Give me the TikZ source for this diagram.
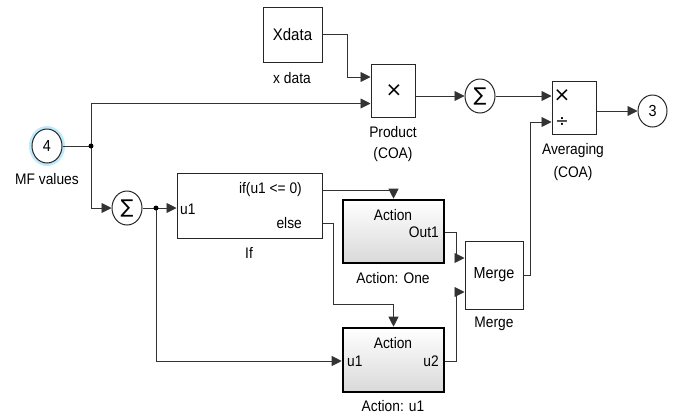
\documentclass[tikz,border=0pt]{standalone}
\usepackage{fontspec}
\setmainfont[FakeStretch=0.9]{Liberation Sans}
\newfontfamily\symfont{DejaVu Sans}
\usetikzlibrary{arrows.meta,shadows,shapes.geometric,calc}
\begin{document}
\begin{tikzpicture}[x=1pt,y=-1pt,
  font=\fontsize{15.3}{17}\selectfont,
  wire/.style={draw=black!80, line width=0.9pt},
  arr/.style={wire,-{Triangle[length=10pt,width=10pt]}},
  blk/.style={draw=black!85, line width=1pt, fill=white, inner sep=0pt,
    drop shadow={shadow xshift=1.2pt,shadow yshift=-1.2pt,opacity=0.35}},
  actblk/.style={draw=black, line width=2.6pt, top color=white, bottom color=black!15, inner sep=0pt,
    drop shadow={shadow xshift=1.2pt,shadow yshift=-1.2pt,opacity=0.35}},
  port/.style={draw=black!85, line width=1pt, fill=white, ellipse, inner sep=0pt, minimum width=30pt, minimum height=34pt},
  dot/.style={circle, fill=black, inner sep=0pt, minimum size=5pt},
  lbl/.style={inner sep=0pt},
  sig/.style={inner sep=0pt, font=\symfont\fontsize{19}{20}\selectfont}
]
\useasboundingbox (0,0) rectangle (677,416);

% blocks
\node[blk, minimum width=59pt, minimum height=55pt] (xdata) at (292.5,34.5) {\fontsize{16.7}{18}\selectfont Xdata};
\node[blk, minimum width=44pt, minimum height=53pt] (prod) at (393,90.5) {};
\node[lbl] at (394,91) {\symfont\fontsize{20}{20}\selectfont ×};
\node[blk, minimum width=44pt, minimum height=53pt] (avg) at (574,107.5) {};
\node[lbl] at (562,96) {\symfont\fontsize{20}{20}\selectfont ×};
\node[lbl] at (562,122) {\symfont\fontsize{16}{16}\selectfont ÷};
\node[blk, minimum width=145pt, minimum height=65pt] (if) at (249.5,205.5) {};
\node[actblk, minimum width=101pt, minimum height=63pt] (act1) at (393.5,231.5) {};
\node[actblk, minimum width=101pt, minimum height=64pt] (actu) at (393.5,360) {};
\node[blk, minimum width=58pt, minimum height=68pt] (merge) at (494,275) {\fontsize{16}{18}\selectfont Merge};

% ports and sums
\draw[line width=3pt, draw=cyan!25] (47,146) ellipse (16.5pt and 18.5pt);
\node[port] (in4) at (47,146) {\fontsize{16}{18}\selectfont 4};
\node[port, minimum width=29pt, minimum height=32pt] (out3) at (652.5,111) {\fontsize{16}{18}\selectfont 3};
\node[port] (sum1) at (480,96) {};
\node[sig] at (480,96) {∑};
\node[port] (sum2) at (127,208) {};
\node[sig] at (127,208) {∑};

% texts inside blocks
\node[lbl, anchor=east] at (302,190) {if(u1 <= 0)};
\node[lbl, anchor=east] at (302,223) {else};
\node[lbl, anchor=west] at (180,209) {u1};
\node[lbl] at (393,215) {Action};
\node[lbl, anchor=east] at (439,232) {Out1};
\node[lbl] at (393,343) {Action};
\node[lbl, anchor=west] at (347,361) {u1};
\node[lbl, anchor=east] at (439,361) {u2};

% labels below blocks
\node[lbl] at (292,78) {x data};
\node[lbl] at (393,132) {Product};
\node[lbl] at (393,155) {(COA)};
\node[lbl] at (573,151) {Averaging};
\node[lbl] at (573,174) {(COA)};
\node[lbl] at (47,179) {MF values};
\node[lbl] at (249,253) {If};
\node[lbl] at (393,278) {Action: One};
\node[lbl] at (494,324) {Merge};
\node[lbl] at (393,406) {Action: u1};

% junctions
\coordinate (j1) at (91,146);
\coordinate (j2) at (156,208);
\coordinate (k1) at (347,77);
\coordinate (k2) at (333,304);
\coordinate (k3) at (456,258);
\coordinate (k4) at (456,292);
\coordinate (k5) at (530,122);

% wires
\draw[arr] (xdata.east) -| (k1) -- (prod.west |- k1);
\draw[wire] (in4.east) -- (j1);
\draw[arr] (j1) |- (prod.west |- 0,103.5);
\draw[arr] (j1) |- (sum2.west);
\draw[wire] (sum2.east) -- (j2);
\draw[arr] (j2) -- (if.west |- j2);
\draw[arr] (j2) |- (actu.west |- 0,361);
\draw[arr] (prod.east |- sum1) -- (sum1.west);
\draw[arr] (sum1.east) -- (avg.west |- sum1);
\draw[arr] (avg.east |- out3) -- (out3.west);
\draw[arr] (if.east |- 0,190) -| (act1.north);
\draw[arr] (if.east |- 0,223) -| (k2) -| (actu.north);
\draw[arr] (act1.east |- 0,232) -| (k3) -- (merge.west |- k3);
\draw[arr] (actu.east |- 0,361) -| (k4) -- (merge.west |- k4);
\draw[arr] (merge.east) -| (k5) -- (avg.west |- k5);

\node[dot] at (j1) {};
\node[dot] at (j2) {};
\end{tikzpicture}
\end{document}
